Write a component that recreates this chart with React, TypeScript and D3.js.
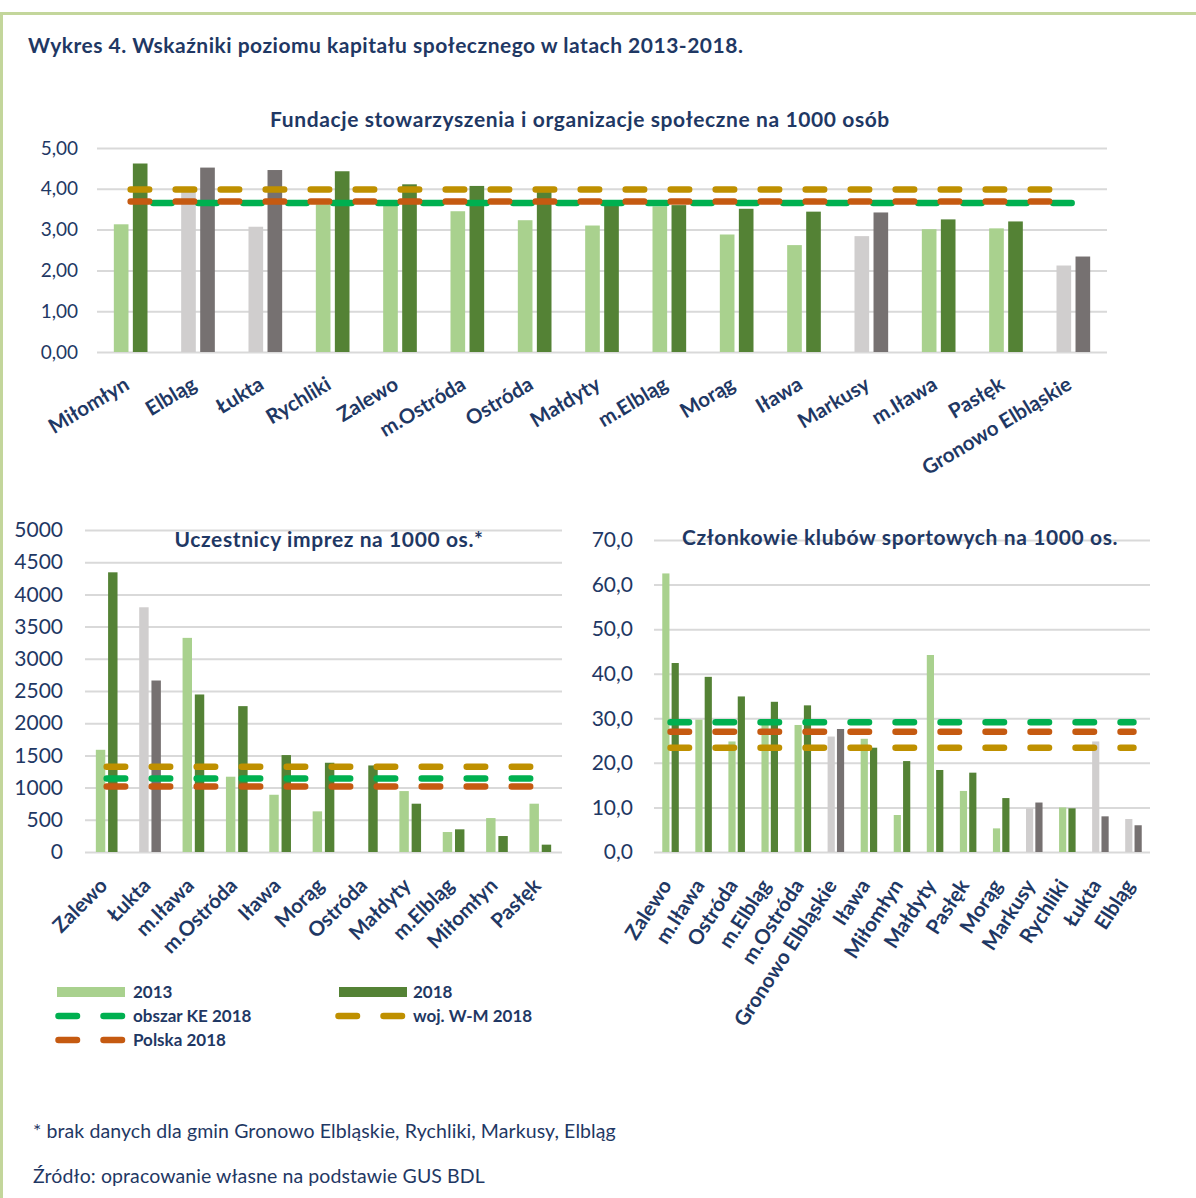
import { useEffect, useRef } from "react";
import * as d3 from "d3";

// ---- data ----
const seriesNames = ["2013", "2018"];
const refNames = ["obszar KE 2018", "woj. W-M 2018", "Polska 2018"];
const grayCats = ["Elbląg", "Łukta", "Markusy", "Gronowo Elbląskie"];

const topCats = ["Miłomłyn", "Elbląg", "Łukta", "Rychliki", "Zalewo", "m.Ostróda", "Ostróda", "Małdyty", "m.Elbląg", "Morąg", "Iława", "Markusy", "m.Iława", "Pasłęk", "Gronowo Elbląskie"];
const top2013 = [3.13, 3.93, 3.07, 3.62, 3.62, 3.45, 3.23, 3.1, 3.57, 2.88, 2.62, 2.84, 3.01, 3.03, 2.12];
const top2018 = [4.62, 4.52, 4.46, 4.43, 4.11, 4.07, 3.92, 3.62, 3.6, 3.51, 3.44, 3.42, 3.25, 3.2, 2.34];
const topRefs = [3.65, 3.98, 3.69]; // KE, W-M, PL

const leftCats = ["Zalewo", "Łukta", "m.Iława", "m.Ostróda", "Iława", "Morąg", "Ostróda", "Małdyty", "m.Elbląg", "Miłomłyn", "Pasłęk"];
const left2013 = [1587, 3800, 3325, 1169, 889, 631, null, 946, 310, 527, 750];
const left2018 = [4343, 2663, 2446, 2265, 1505, 1386, 1344, 750, 352, 248, 114];
const leftRefs = [1143, 1324, 1019];

const rightCats = ["Zalewo", "m.Iława", "Ostróda", "m.Elbląg", "m.Ostróda", "Gronowo Elbląskie", "Iława", "Miłomłyn", "Małdyty", "Pasłęk", "Morąg", "Markusy", "Rychliki", "Łukta", "Elbląg"];
const right2013 = [62.5, 29.7, 24.8, 28.8, 28.5, 25.9, 25.4, 8.3, 44.2, 13.7, 5.3, 9.8, 10.0, 24.8, 7.4];
const right2018 = [42.4, 39.3, 34.9, 33.7, 32.9, 27.6, 23.4, 20.4, 18.4, 17.8, 12.1, 11.1, 9.8, 8.0, 6.0];
const rightRefs = [29.1, 23.4, 27.0];

const mainTitle = "Wykres 4. Wskaźniki poziomu kapitału społecznego w latach 2013-2018.";
const footnote = "* brak danych dla gmin Gronowo Elbląskie, Rychliki, Markusy, Elbląg";
const source = "Źródło: opracowanie własne na podstawie GUS BDL";

const C = {
  light: "#a9d18e",
  dark: "#548235",
  lightGray: "#d0cece",
  darkGray: "#767171",
  ke: "#00b050",
  wm: "#bf9000",
  pl: "#c55a11",
  text: "#1f3864",
  grid: "#d9d9d9",
  frame: "#c3d69b",
};
const refColors = [C.ke, C.wm, C.pl];
const FONT = "Lato, 'Open Sans', sans-serif";
const DASH = "18.5 26.5";
const LW = 6.5;

const comma = (f: string) => (d: number) => d3.format(f)(d).replace(".", ",");

function drawPanel(root: any, p: any) {
  const g = root.append("g");
  const x = d3.scaleBand<string>().domain(p.cats).range([p.left, p.right]).paddingInner(0.5).paddingOuter(0.25);
  const xs = d3.scaleBand<string>().domain(seriesNames).range([0, x.bandwidth()]).paddingInner(0.23);
  const y = d3.scaleLinear().domain([0, p.max]).range([p.bottom, p.top]);
  const ticks = d3.range(0, p.max + p.step / 2, p.step);

  // grid + y labels
  g.append("g").attr("transform", `translate(${p.left},0)`)
    .call(d3.axisLeft(y).tickValues(ticks).tickFormat(p.fmt).tickSize(-(p.right - p.left)).tickPadding(p.pad))
    .call((ax: any) => ax.select(".domain").remove())
    .call((ax: any) => ax.selectAll("line").attr("stroke", C.grid).attr("stroke-width", 2))
    .call((ax: any) => ax.selectAll("text").attr("fill", C.text).attr("font-size", p.tickFont).attr("font-family", FONT));

  // title
  g.append("text").attr("x", p.titleX).attr("y", p.titleY).attr("text-anchor", "middle")
    .attr("font-family", FONT).attr("font-weight", 700).attr("font-size", 21).attr("letter-spacing", 0.6)
    .attr("fill", C.text).text(p.title);

  // bars
  const rows = p.cats.map((c: string, i: number) => ({ c, v: [p.v13[i], p.v18[i]] }));
  rows.forEach((r: any) => {
    const gray = grayCats.includes(r.c);
    seriesNames.forEach((s, k) => {
      const v = r.v[k];
      if (v == null) return;
      g.append("rect")
        .attr("x", (x(r.c) as number) + (xs(s) as number)).attr("width", xs.bandwidth())
        .attr("y", y(v)).attr("height", y(0) - y(v))
        .attr("fill", k === 0 ? (gray ? C.lightGray : C.light) : (gray ? C.darkGray : C.dark));
    });
  });

  // reference lines: KE, W-M, then Polska on top
  const line = d3.line<string>().x((c) => (x(c) as number) + x.bandwidth() / 2);
  p.refs.forEach((val: number, k: number) => {
    g.append("path")
      .attr("d", line.y(() => y(val))(p.cats))
      .attr("fill", "none").attr("stroke", refColors[k]).attr("stroke-width", LW)
      .attr("stroke-linecap", "round").attr("stroke-dasharray", DASH)
      .attr("stroke-dashoffset", k === 0 ? p.greenShift : 0);
  });

  // x labels
  g.append("g").attr("transform", `translate(0,${p.bottom})`)
    .call(d3.axisBottom(x).tickSize(0))
    .call((ax: any) => ax.select(".domain").remove())
    .call((ax: any) => ax.selectAll("text")
      .attr("y", 0).attr("dy", "0.75em")
      .attr("text-anchor", "end")
      .attr("transform", `translate(${p.lblDx},${p.lblDy}) rotate(${p.angle})`)
      .attr("fill", C.text).attr("font-size", 20.5).attr("font-weight", 700).attr("font-family", FONT));
}

export default function App() {
  const ref = useRef<SVGSVGElement>(null);

  useEffect(() => {
    const svg = d3.select(ref.current);
    svg.selectAll("*").remove();

    // frame
    svg.append("line").attr("x1", 0).attr("x2", 1196).attr("y1", 13.5).attr("y2", 13.5).attr("stroke", C.frame).attr("stroke-width", 3);
    svg.append("line").attr("x1", 1.5).attr("x2", 1.5).attr("y1", 12).attr("y2", 1198).attr("stroke", C.frame).attr("stroke-width", 3);

    svg.append("text").attr("x", 28).attr("y", 53).attr("font-family", FONT).attr("font-weight", 700)
      .attr("font-size", 21).attr("letter-spacing", 0.5).attr("fill", C.text).text(mainTitle);

    drawPanel(svg, {
      cats: topCats, v13: top2013, v18: top2018, refs: topRefs,
      left: 97, right: 1107, top: 148, bottom: 352, max: 5, step: 1, fmt: comma(".2f"), pad: 19, tickFont: 19,
      title: "Fundacje stowarzyszenia i organizacje społeczne na 1000 osób", titleX: 580, titleY: 127,
      angle: -31, lblDx: -8, lblDy: 23, greenShift: 22.5,
    });
    drawPanel(svg, {
      cats: leftCats, v13: left2013, v18: left2018, refs: leftRefs,
      left: 85, right: 562, top: 530, bottom: 852, max: 5000, step: 500, fmt: d3.format("d"), pad: 22, tickFont: 21,
      title: "Uczestnicy imprez na 1000 os.*", titleX: 329, titleY: 547,
      angle: -45, lblDx: -9, lblDy: 24, greenShift: 0,
    });
    drawPanel(svg, {
      cats: rightCats, v13: right2013, v18: right2018, refs: rightRefs,
      left: 654, right: 1150, top: 540, bottom: 852, max: 70, step: 10, fmt: comma(".1f"), pad: 21, tickFont: 21,
      title: "Członkowie klubów sportowych na 1000 os.", titleX: 900, titleY: 545,
      angle: -57, lblDx: -11, lblDy: 25, greenShift: 0,
    });

    // legend
    const lg = svg.append("g").attr("font-family", FONT).attr("font-weight", 700).attr("font-size", 17).attr("fill", C.text);
    const legendItems = [
      { name: seriesNames[0], kind: "bar", color: C.light, x: 57, y: 992 },
      { name: seriesNames[1], kind: "bar", color: C.dark, x: 339, y: 992 },
      { name: refNames[0], kind: "line", color: C.ke, x: 58.5, y: 1016 },
      { name: refNames[1], kind: "line", color: C.wm, x: 338.5, y: 1016 },
      { name: refNames[2], kind: "line", color: C.pl, x: 58.5, y: 1040 },
    ];
    legendItems.forEach((it) => {
      if (it.kind === "bar") {
        lg.append("rect").attr("x", it.x).attr("y", it.y - 5).attr("width", 68).attr("height", 10).attr("fill", it.color);
      } else {
        lg.append("line").attr("x1", it.x).attr("x2", it.x + 64).attr("y1", it.y).attr("y2", it.y)
          .attr("stroke", it.color).attr("stroke-width", LW).attr("stroke-linecap", "round").attr("stroke-dasharray", DASH);
      }
      lg.append("text").attr("x", it.x < 200 ? 133 : 413).attr("y", it.y + 6).text(it.name);
    });

    svg.append("text").attr("x", 33).attr("y", 1138).attr("font-family", FONT).attr("font-size", 19.5)
      .attr("letter-spacing", 0.1).attr("fill", C.text).text(footnote);
    svg.append("text").attr("x", 33).attr("y", 1183).attr("font-family", FONT).attr("font-size", 19.5)
      .attr("letter-spacing", 0.1).attr("fill", C.text).text(source);
  }, []);

  return (
    <svg ref={ref} width={1196} height={1198}
      style={{ position: "absolute", left: 0, top: 0, background: "#fff", display: "block" }} />
  );
}
